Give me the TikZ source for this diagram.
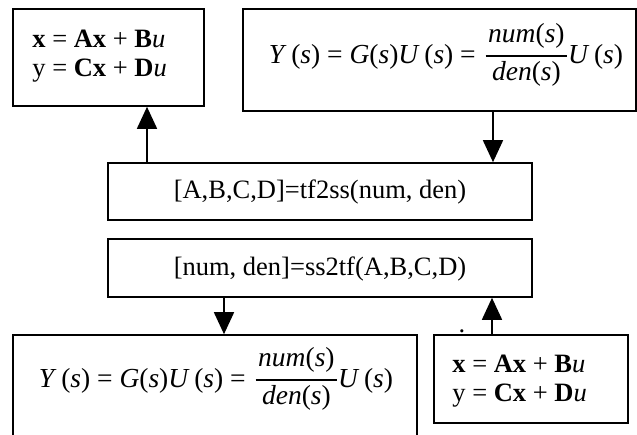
\documentclass[tikz,border=0pt]{standalone}
\usepackage{fontspec}
\setmainfont{Liberation Serif}
\usetikzlibrary{arrows.meta}
\newcommand{\iv}[1]{\textit{#1}}
\newcommand{\myfrac}[2]{%
  \setbox0\hbox{#1}\setbox2\hbox{#2}%
  \dimen0=\ifdim\wd0>\wd2 \wd0\else\wd2\fi
  \advance\dimen0 by 5pt
  \raisebox{21pt}{\makebox[\dimen0]{#1}}\kern-\dimen0
  \raisebox{-17pt}{\makebox[\dimen0]{#2}}\kern-\dimen0
  \rule[6.5pt]{\dimen0}{1.3pt}}
\newcommand{\eqtf}{\iv{Y}\,(\iv{s}) = \iv{G}(\iv{s})\iv{U}\,(\iv{s}) =\hspace{10pt}\myfrac{\iv{num}(\iv{s})}{\iv{den}(\iv{s})}\kern1pt\iv{U}\,(\iv{s})}
\tikzset{
  box/.style={draw, line width=1.6pt, rectangle, inner sep=0pt},
  txt/.style={inner sep=0pt, font=\fontsize{26.5}{32}\selectfont},
  eqtxt/.style={inner sep=0pt, font=\fontsize{27.5}{33}\selectfont},
  arr/.style={line width=1.6pt, -{Triangle[width=20pt,length=22pt]}}
}
\begin{document}
\begin{tikzpicture}[x=1pt,y=-1pt]
\useasboundingbox (0,0) rectangle (637,434);
% boxes
\node[box, minimum width=191pt, minimum height=97pt] (ss1) at (108.5,57.5) {};
\node[box, minimum width=393pt, minimum height=102pt] (tf1) at (439.5,60) {};
\node[box, minimum width=424pt, minimum height=57pt] (c1) at (320,191.5) {};
\node[box, minimum width=424pt, minimum height=58pt] (c2) at (320,268) {};
\node[box, minimum width=404pt, minimum height=115pt] (tf2) at (215,392.5) {};
\node[box, minimum width=194pt, minimum height=88pt] (ss2) at (531,379) {};
% texts
\node[txt, anchor=base west] (t1a) at ([xshift=20pt,yshift=-39pt]ss1.north west) {\textbf{x} = \textbf{Ax} + \textbf{B}\iv{u}};
\node[txt, anchor=base west] (t1b) at ([xshift=20pt,yshift=-68pt]ss1.north west) {y = \textbf{Cx} + \textbf{D}\iv{u}};
\node[eqtxt, anchor=base] (t2) at ([xshift=6.5pt,yshift=-3pt]tf1.center) {\eqtf};
\node[txt, anchor=base] (t3) at ([yshift=-6.5pt]c1.center) {[A,B,C,D]=tf2ss(num, den)};
\node[txt, anchor=base] (t4) at ([yshift=-7pt]c2.center) {[num, den]=ss2tf(A,B,C,D)};
\node[eqtxt, anchor=base] (t5) at ([xshift=1pt,yshift=5.5pt]tf2.center) {\eqtf};
\node[txt, anchor=base west] (t6a) at ([xshift=19pt,yshift=-38pt]ss2.north west) {\textbf{x} = \textbf{Ax} + \textbf{B}\iv{u}};
\node[txt, anchor=base west] (t6b) at ([xshift=19pt,yshift=-67pt]ss2.north west) {y = \textbf{Cx} + \textbf{D}\iv{u}};
\node[txt, anchor=south] (dot) at (462,333) {.};
% connectors
\coordinate (a1) at (147,0);
\coordinate (a2) at (493,0);
\coordinate (a3) at (224,0);
\coordinate (a4) at (492,0);
\draw[arr] (a1 |- c1.north) -- (a1 |- ss1.south);
\draw[arr] (a2 |- tf1.south) -- (a2 |- c1.north);
\draw[arr] (a3 |- c2.south) -- (a3 |- tf2.north);
\draw[arr] (a4 |- ss2.north) -- (a4 |- c2.south);
\end{tikzpicture}
\end{document}
